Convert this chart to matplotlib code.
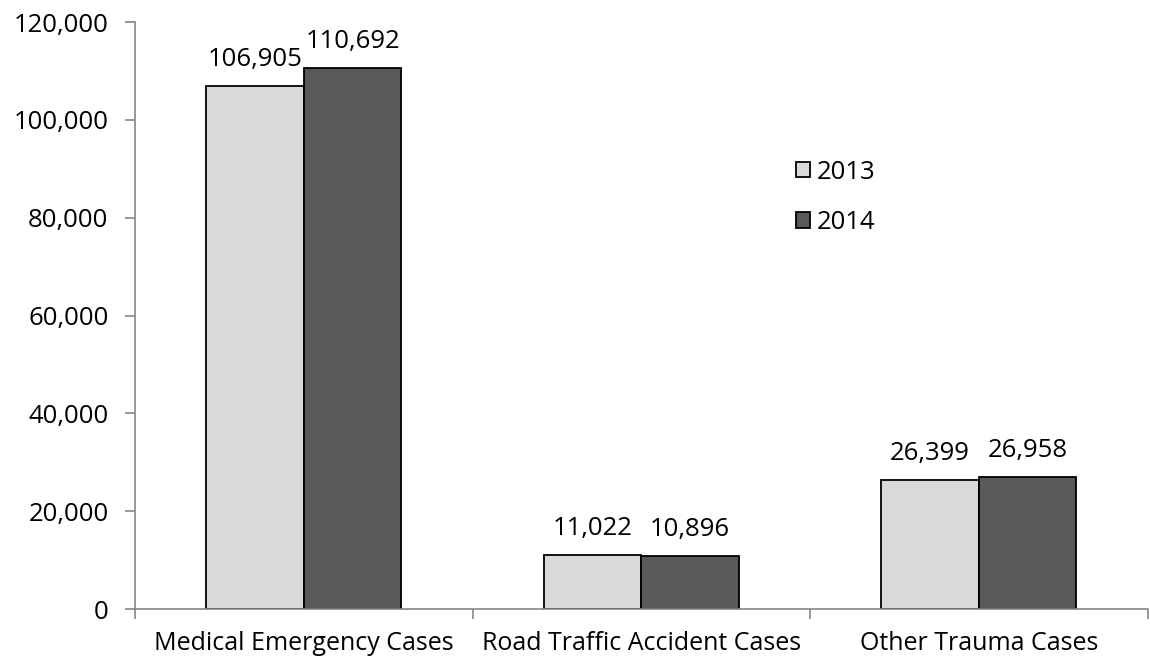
import matplotlib
matplotlib.use("Agg")
import matplotlib.pyplot as plt
import numpy as np
from matplotlib.ticker import FuncFormatter

categories = ["Medical Emergency Cases", "Road Traffic Accident Cases", "Other Trauma Cases"]
years = ["2013", "2014"]
values_2013 = [106905, 11022, 26399]
values_2014 = [110692, 10896, 26958]
colors = ["#D9D9D9", "#595959"]

plt.rcParams["font.family"] = ["Open Sans", "DejaVu Sans"]
FS = 18.5

fig = plt.figure(figsize=(11.5, 6.63), dpi=100)
ax = fig.add_axes([0.1174, 0.0814, 0.8806, 0.8854])

x = np.arange(len(categories))
w = 0.289
for i, (vals, c, lab) in enumerate(zip([values_2013, values_2014], colors, years)):
    b = ax.bar(x + (i - 0.5) * w, vals, width=w, color=c, edgecolor="black", linewidth=1.3, label=lab)
    for rect, v in zip(b, vals):
        ax.annotate(f"{v:,}", (rect.get_x() + rect.get_width() / 2, v), xytext=(0, 10),
                    textcoords="offset points", ha="center", va="bottom", fontsize=FS)

ax.set_xlim(-0.5, 2.5)
ax.set_ylim(0, 120000)
ax.set_yticks(np.arange(0, 120001, 20000))
ax.yaxis.set_major_formatter(FuncFormatter(lambda v, p: f"{int(v):,}"))
ax.set_xticks([-0.5, 0.5, 1.5, 2.5])
ax.set_xticklabels([])
ax.set_xticks(x, minor=True)
ax.set_xticklabels(categories, minor=True)
ax.tick_params(axis="x", which="minor", length=0, labelsize=18, pad=16)
ax.tick_params(axis="x", which="major", length=7, color="#868686", width=1.2)
ax.tick_params(axis="y", length=7, color="#868686", width=1.2, labelsize=FS, pad=12)

for s in ["top", "right"]:
    ax.spines[s].set_visible(False)
for s in ["left", "bottom"]:
    ax.spines[s].set_color("#868686")
    ax.spines[s].set_linewidth(1.2)

ax.legend(loc="upper left", bbox_to_anchor=(0.63, 0.805), frameon=False, fontsize=FS,
          handlelength=0.55, handleheight=0.55, handletextpad=0.25, labelspacing=1.0)

fig.savefig("out.png", dpi=100)
